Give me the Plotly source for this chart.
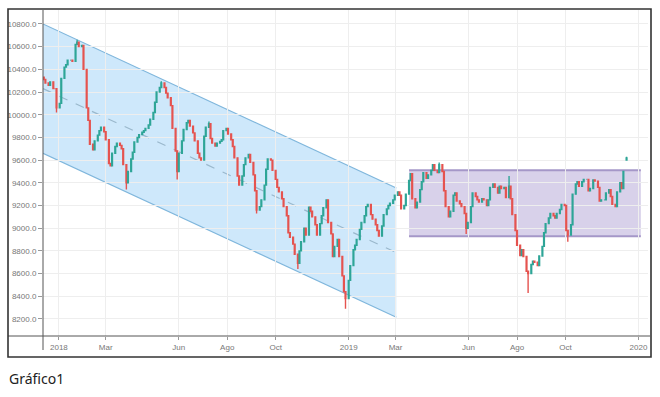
import pandas as pd
import plotly.graph_objects as go

# ---- data ----
closes = [
    10310, 10280, 10260, 10290, 10230, 10230, 10060, 10100, 10320, 10420,
    10440, 10480, 10480, 10470, 10620, 10640, 10600, 10610, 10400, 10060,
    9950, 9740, 9690, 9770, 9820, 9860, 9890, 9850, 9780, 9570,
    9550, 9660, 9720, 9750, 9730, 9700, 9560, 9400, 9500, 9610,
    9670, 9760, 9800, 9825, 9845, 9860, 9880, 9910, 9960, 10020,
    10110, 10200, 10240, 10280, 10240, 10190, 10150, 10080, 9880, 9680,
    9500, 9660, 9770, 9870, 9930, 9950, 9900, 9840, 9770, 9660,
    9620, 9600, 9810, 9890, 9920, 9790, 9750, 9725, 9750, 9765,
    9780, 9860, 9880, 9830, 9780, 9720, 9620, 9460, 9380, 9460,
    9560, 9620, 9650, 9580, 9470, 9330, 9160, 9190, 9250, 9380,
    9520, 9610, 9600, 9510, 9430, 9360, 9320, 9260, 9190, 9110,
    8960, 8920, 8860, 8770, 8690, 8800, 8880, 9000, 8940, 9185,
    9150, 9100, 9030, 8940, 9040, 9110, 9180, 9250, 9050, 8950,
    8750, 8840, 8900, 8750, 8580, 8440, 8380, 8540, 8670, 8810,
    8850, 8900, 8990, 9050, 9110, 9190, 9210, 9120, 9080, 9030,
    8980, 8930, 9020, 9120, 9170, 9200, 9220, 9250, 9290, 9320,
    9290, 9170, 9200, 9300, 9420, 9480, 9260, 9180, 9230, 9340,
    9410, 9490, 9440, 9470, 9510, 9560, 9510, 9490, 9560, 9500,
    9330, 9190, 9100, 9150, 9290, 9310, 9240, 9215, 9190, 9130,
    9000, 9050, 9190, 9310, 9280, 9250, 9230, 9260, 9250, 9200,
    9250, 9360, 9390, 9360, 9310, 9370, 9350, 9360, 9270, 9370,
    9260, 9120, 8980, 8850, 8760, 8810, 8750, 8620, 8600, 8680,
    8710, 8700, 8670, 8755, 8840, 8960, 9040, 9090, 9130, 9110,
    9090, 9130, 9165, 9210, 9200, 8980, 8940, 9030, 9300, 9390,
    9410, 9370, 9410, 9430, 9430, 9330, 9350, 9425, 9415, 9360,
    9240, 9250, 9250, 9310, 9340, 9280, 9210, 9190, 9320, 9400,
    9350, 9500, 9620,
]
first_open = 10330
gap_opens = {262: 9600}
wick_highs = {15: 10660, 53: 10295, 74: 9940, 178: 9580, 209: 9460, 262: 9630}
wick_lows = {6: 10020, 37: 9340, 60: 9430, 96: 9130, 114: 8640, 136: 8290,
             190: 8950, 218: 8430, 236: 8880}

x_ticks = ["2018-01-01", "2018-03-01", "2018-06-01", "2018-08-01", "2018-10-01",
           "2019-01-01", "2019-03-01", "2019-06-01", "2019-08-01", "2019-10-01",
           "2020-01-01"]
x_tick_labels = ["2018", "Mar", "Jun", "Ago", "Oct", "2019", "Mar", "Jun", "Ago",
                 "Oct", "2020"]
y_ticks = list(range(8200, 10801, 200))

channel_start, channel_end = "2017-12-12", "2019-03-02"
channel_upper = [10800, 9355]
channel_lower = [9660, 8215]
range_box_x = ["2019-03-18", "2020-01-04"]
range_box_y = [8930, 9510]

# ---- build OHLC ----
dates = pd.bdate_range("2017-12-13", periods=2 * len(closes))[::2][:len(closes)]
opens = [first_open] + closes[:-1]
for k, v in gap_opens.items():
    opens[k] = v
highs = [max(o, c) for o, c in zip(opens, closes)]
lows = [min(o, c) for o, c in zip(opens, closes)]
for k, v in wick_highs.items():
    highs[k] = v
for k, v in wick_lows.items():
    lows[k] = v

fig = go.Figure()

channel_mid = [(channel_upper[0] + channel_lower[0]) / 2,
               (channel_upper[1] + channel_lower[1]) / 2]

# channel fill (shape, below the candles)
path = (f"M{channel_start},{channel_upper[0]} L{channel_end},{channel_upper[1]} "
        f"L{channel_end},{channel_lower[1]} L{channel_start},{channel_lower[0]} Z")
fig.add_shape(type="path", xref="x", yref="y", path=path,
              fillcolor="rgba(190,224,250,0.75)", line=dict(width=0), layer="below")
for ys in (channel_upper, channel_lower):
    fig.add_shape(type="line", xref="x", yref="y", x0=channel_start, x1=channel_end,
                  y0=ys[0], y1=ys[1], line=dict(color="#7fb6dc", width=1.2), layer="below")
fig.add_shape(type="line", xref="x", yref="y", x0=channel_start, x1=channel_end,
              y0=channel_mid[0], y1=channel_mid[1],
              line=dict(color="#9ab8cc", width=1.2, dash="dash"), layer="below")

# range box
fig.add_shape(type="rect", xref="x", yref="y",
              x0=range_box_x[0], x1=range_box_x[1], y0=range_box_y[0], y1=range_box_y[1],
              fillcolor="rgba(200,190,225,0.7)", line=dict(width=0), layer="below")
for yv in range_box_y:
    fig.add_shape(type="line", xref="x", yref="y", x0=range_box_x[0], x1=range_box_x[1],
                  y0=yv, y1=yv, line=dict(color="#a597c8", width=2), layer="below")

fig.add_trace(go.Candlestick(
    x=dates, open=opens, high=highs, low=lows, close=closes,
    increasing=dict(line=dict(color="#2ea597", width=1.4), fillcolor="#2ea597"),
    decreasing=dict(line=dict(color="#e5534f", width=1.4), fillcolor="#e5534f"),
    whiskerwidth=0, showlegend=False))

# axis lines / border (paper coordinates)
L, R, T, B = 43, 12, 10, 61
W, H = 660, 397
pw, ph = W - L - R, H - T - B
def px(xp):
    return (xp - L) / pw
def py(yp):
    return (H - B - yp) / ph

fig.add_shape(type="line", xref="paper", yref="paper", x0=0, x1=0, y0=py(350), y1=1,
              line=dict(color="#555", width=1))
fig.add_shape(type="line", xref="paper", yref="paper", x0=px(8), x1=px(650), y0=0, y1=0,
              line=dict(color="#555", width=1))
fig.add_shape(type="rect", xref="paper", yref="paper", x0=px(8), x1=px(651),
              y0=py(357), y1=py(9), line=dict(color="#333", width=1.6))

fig.add_annotation(text="Gráfico1", xref="paper", yref="paper", x=px(7), y=py(378),
                   xanchor="left", yanchor="middle", showarrow=False,
                   font=dict(family="Noto Sans", size=14, color="#222"))

fig.update_layout(
    width=W, height=H, margin=dict(l=L, r=R, t=T, b=B, autoexpand=False),
    paper_bgcolor="white", plot_bgcolor="white",
    font=dict(family="Liberation Sans", size=8, color="#777"),
    xaxis=dict(range=["2017-12-12", "2020-01-13"], type="date", automargin=False,
               tickvals=x_ticks, ticktext=x_tick_labels,
               showgrid=True, gridcolor="#eeeeee", gridwidth=1,
               ticks="outside", ticklen=3, tickcolor="#999",
               showline=False, zeroline=False,
               rangeslider=dict(visible=False), tickfont=dict(size=8, color="#777")),
    yaxis=dict(range=[8050, 10923], tickvals=y_ticks, tickformat=".1f", automargin=False,
               showgrid=True, gridcolor="#eeeeee", gridwidth=1,
               ticks="outside", ticklen=4, tickcolor="#999",
               showline=False, zeroline=False, tickfont=dict(size=8, color="#777")),
    hovermode=False,
)

fig.write_html("out.html", config={"displayModeBar": False},
               post_script="document.body.style.margin='0px';document.body.style.overflow='hidden';")
